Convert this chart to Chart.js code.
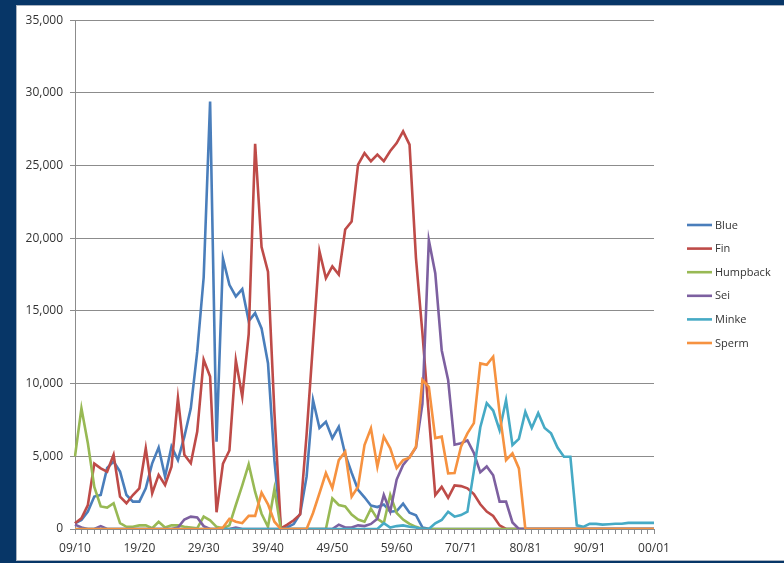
<!DOCTYPE html>
<html>
<head>
<meta charset="utf-8">
<script src="https://cdn.jsdelivr.net/npm/chart.js"></script>
<style>
  html, body { margin: 0; padding: 0; }
  body { width: 784px; height: 563px; background: #073667; overflow: hidden; position: relative; }
  .panel { position: absolute; left: 16px; top: 5px; width: 800px; height: 556px; background: #fff; border: 1px solid #a9b3c0; box-sizing: border-box; }
  .chart-box { position: absolute; left: 17px; top: 6px; width: 767px; height: 554px; }
</style>
</head>
<body>
<div class="panel"></div>
<div class="chart-box"><canvas id="whaleChart"></canvas></div>
<script>
// Seasons, one per category (only every 10th is labelled)
const seasons = [
  '09/10','10/11','11/12','12/13','13/14','14/15','15/16','16/17','17/18','18/19',
  '19/20','20/21','21/22','22/23','23/24','24/25','25/26','26/27','27/28','28/29',
  '29/30','30/31','31/32','32/33','33/34','34/35','35/36','36/37','37/38','38/39',
  '39/40','40/41','41/42','42/43','43/44','44/45','45/46','46/47','47/48','48/49',
  '49/50','50/51','51/52','52/53','53/54','54/55','55/56','56/57','57/58','58/59',
  '59/60','60/61','61/62','62/63','63/64','64/65','66/67','67/68','68/69','69/70',
  '70/71','71/72','72/73','73/74','74/75','75/76','76/77','77/78','78/79','79/80',
  '80/81','81/82','82/83','83/84','84/85','85/86','86/87','87/88','88/89','89/90',
  '90/91','91/92','92/93','93/94','94/95','95/96','96/97','97/98','98/99','99/00',
  '00/01'
];

const blue = [
  390, 620, 1200, 2230, 2340, 4200, 4640, 3950, 2340, 1880,
  1880, 2800, 4520, 5600, 3600, 5670, 4750, 6350, 8300, 12200,
  17300, 29400, 6000, 18600, 16800, 16000, 16500, 14300, 14850, 13800,
  11400, 4700, 60, 120, 340, 1050, 3600, 8870, 6950, 7380,
  6250, 7030, 5130, 3870, 2700, 2180, 1610, 1510, 1690, 1190,
  1230, 1740, 1120, 950, 110, 20, 0, 0, 0, 0,
  0, 0, 0, 0, 0, 0, 0, 0, 0, 0,
  0, 0, 0, 0, 0, 0, 0, 0, 0, 0,
  0, 0, 0, 0, 0, 0, 0, 0, 0, 0,
  0
];

const fin = [
  390, 730, 1650, 4500, 4170, 3950, 5100, 2230, 1770, 2340,
  2800, 5550, 2460, 3720, 3030, 4290, 9000, 5100, 4520, 6700,
  11640, 10490, 1150, 4500, 5400, 11600, 9100, 13400, 26500, 19400,
  17700, 8000, 50, 300, 600, 1000, 6500, 12800, 19100, 17250,
  18060, 17500, 20600, 21150, 25060, 25860, 25300, 25750, 25300, 26000,
  26550, 27350, 26440, 18630, 13500, 7800, 2330, 2900, 2150, 3000,
  2950, 2800, 2400, 1700, 1200, 900, 250, 0, 0, 0,
  0, 0, 0, 0, 0, 0, 0, 0, 0, 0,
  0, 0, 0, 0, 0, 0, 0, 0, 0, 0,
  0
];

const humpback = [
  5000, 8300, 5900, 2900, 1550, 1470, 1770, 400, 150, 150,
  250, 250, 50, 500, 100, 250, 250, 150, 100, 50,
  850, 600, 150, 50, 250, 1650, 3000, 4450, 2550, 1050,
  150, 2750, 0, 0, 0, 0, 0, 0, 0, 0,
  2100, 1650, 1550, 1000, 650, 500, 1400, 700, 400, 2350,
  1100, 650, 350, 150, 0, 0, 0, 0, 0, 0,
  0, 0, 0, 0, 0, 0, 0, 0, 0, 0,
  0, 0, 0, 0, 0, 0, 0, 0, 0, 0,
  0, 0, 0, 0, 0, 0, 0, 0, 0, 0,
  0
];

const sei = [
  300, 100, 0, 0, 200, 0, 0, 0, 0, 0,
  0, 0, 0, 0, 0, 0, 100, 650, 850, 800,
  200, 0, 0, 0, 0, 100, 0, 0, 0, 0,
  0, 0, 0, 0, 0, 0, 0, 0, 0, 0,
  0, 300, 100, 100, 250, 200, 350, 700, 2340, 1200,
  3400, 4400, 4950, 5600, 8600, 19870, 17600, 12300, 10250, 5800,
  5900, 6100, 5230, 3900, 4300, 3700, 1880, 1880, 450, 0,
  0, 0, 0, 0, 0, 0, 0, 0, 0, 0,
  0, 0, 0, 0, 0, 0, 0, 0, 0, 0,
  0
];

const minke = [
  0, 0, 0, 0, 0, 0, 0, 0, 0, 0,
  0, 0, 0, 0, 0, 0, 0, 0, 0, 0,
  0, 0, 0, 0, 0, 0, 0, 0, 0, 0,
  0, 0, 0, 0, 0, 0, 0, 0, 0, 0,
  0, 0, 0, 0, 0, 0, 0, 0, 400, 100,
  200, 250, 150, 100, 0, 0, 390, 620, 1190, 850,
  960, 1190, 4000, 7000, 8650, 8150, 6800, 8870, 5780, 6200,
  8060, 6950, 7970, 6950, 6580, 5600, 4970, 4970, 250, 150,
  350, 350, 300, 330, 360, 360, 420, 420, 420, 420,
  420
];

const sperm = [
  0, 0, 0, 0, 0, 0, 0, 0, 0, 0,
  0, 0, 0, 0, 0, 0, 0, 0, 0, 0,
  0, 0, 0, 100, 700, 500, 400, 900, 900, 2500,
  1700, 500, 0, 0, 0, 0, 0, 1100, 2460, 3850,
  2820, 4740, 5310, 2220, 2910, 5780, 6920, 4280, 6350, 5550,
  4190, 4740, 4900, 5660, 10250, 9780, 6250, 6350, 3830, 3850,
  5660, 6580, 7280, 11390, 11300, 11850, 8000, 4740, 5200, 4170,
  0, 0, 0, 0, 0, 0, 0, 0, 0, 0,
  0, 0, 0, 0, 0, 0, 0, 0, 0, 0,
  0
];

const axisFont = { family: '"Open Sans", "Noto Sans", sans-serif', size: 12 };
const gridGray = '#8c8c8c';

function series(label, data, color, order) {
    return {
        label: label,
        data: data,
        borderColor: color,
        backgroundColor: color,
        borderWidth: 2.6,
        pointRadius: 0,
        tension: 0,
        order: order // later series drawn on top, like Excel
    };
}

// Legend drawn at the right of the plot, Excel style (line sample + name)
const sideLegend = {
    id: 'sideLegend',
    afterDraw(chart) {
        const ctx = chart.ctx;
        const x0 = chart.chartArea.right + 33;
        ctx.save();
        ctx.font = '11px "Open Sans", "Noto Sans", sans-serif';
        ctx.textBaseline = 'middle';
        chart.data.datasets.forEach((ds, i) => {
            const y = 219 + i * 23.6;
            ctx.strokeStyle = ds.borderColor;
            ctx.lineWidth = 2.6;
            ctx.beginPath();
            ctx.moveTo(x0, y);
            ctx.lineTo(x0 + 25, y);
            ctx.stroke();
            ctx.fillStyle = '#333';
            ctx.fillText(ds.label, x0 + 28, y + 0.5);
        });
        ctx.restore();
    }
};

const ctx = document.getElementById('whaleChart').getContext('2d');
const whaleChart = new Chart(ctx, {
    type: 'line',
    data: {
        labels: seasons,
        datasets: [
            series('Blue', blue, '#4A7EBB', 5),
            series('Fin', fin, '#BE4B48', 4),
            series('Humpback', humpback, '#98B954', 3),
            series('Sei', sei, '#7D60A0', 2),
            series('Minke', minke, '#46AAC5', 1),
            series('Sperm', sperm, '#F69240', 0)
        ]
    },
    options: {
        responsive: true,
        maintainAspectRatio: false,
        animation: false,
        layout: {
            padding: { left: 0, right: 130, top: 14, bottom: 0 }
        },
        scales: {
            x: {
                grid: {
                    drawOnChartArea: false,
                    color: gridGray,
                    tickLength: 5
                },
                border: { color: gridGray },
                ticks: {
                    autoSkip: false,
                    maxRotation: 0,
                    padding: 7,
                    color: '#333',
                    font: axisFont,
                    callback: function (value, index) {
                        return index % 10 === 0 ? this.getLabelForValue(value) : '';
                    }
                },
                afterFit: function (scale) { scale.height = 31; }
            },
            y: {
                min: 0,
                max: 35000,
                grid: {
                    color: gridGray,
                    tickLength: 5
                },
                border: { color: gridGray },
                ticks: {
                    stepSize: 5000,
                    padding: 7,
                    color: '#333',
                    font: axisFont,
                    callback: function (value) { return value.toLocaleString('en-US'); }
                },
                afterFit: function (scale) { scale.width = 58; }
            }
        },
        plugins: {
            legend: { display: false },
            tooltip: { enabled: false }
        }
    },
    plugins: [sideLegend]
});
</script>
</body>
</html>
